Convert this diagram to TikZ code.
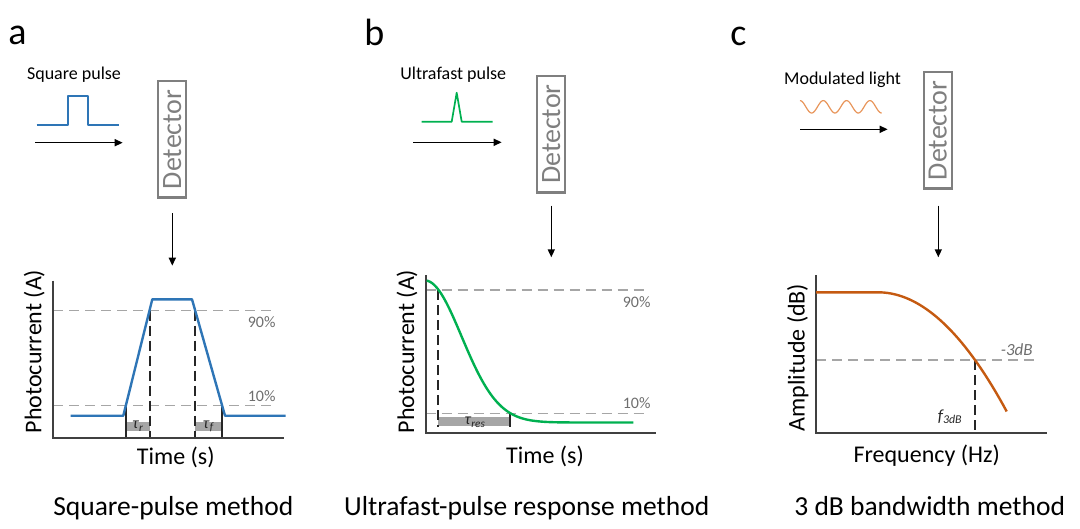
\documentclass[tikz,border=0pt]{standalone}
\usepackage{fontspec}
\setmainfont{Carlito}
\usetikzlibrary{arrows.meta}
\definecolor{pblue}{HTML}{2E75B6}
\definecolor{pgreen}{HTML}{00B050}
\definecolor{lorange}{HTML}{E8955A}
\definecolor{dorange}{HTML}{C55A11}
\definecolor{detgray}{HTML}{7F7F7F}
\definecolor{axgray}{HTML}{404040}
\definecolor{thrgray}{HTML}{A6A6A6}
\definecolor{pctgray}{HTML}{6E6E6E}
\definecolor{dkline}{HTML}{262626}
\definecolor{bargray}{HTML}{A6A6A6}
\newcommand\myfs[1]{\fontsize{#1}{#1}\selectfont}
\begin{document}
\begin{tikzpicture}[x=1pt,y=-1pt,
  detbox/.style={draw=detgray, line width=2.2pt, text=detgray, rotate=90,
    minimum width=116.5pt, minimum height=28pt, inner sep=0pt, font=\myfs{28}},
  flow/.style={-{Triangle[length=8pt,width=7pt]}, line width=1.5pt, black},
  axisline/.style={line width=2.2pt, draw=axgray},
  thr/.style={dash pattern=on 10pt off 6pt, line width=1.5pt, draw=thrgray},
  vdash/.style={dash pattern=on 10pt off 5pt, line width=1.7pt, draw=dkline},
  vsolid/.style={line width=1.7pt, draw=dkline},
  gbar/.style={fill=bargray, draw=none},
  pct/.style={font=\myfs{16}, text=pctgray, inner sep=0pt},
  small/.style={font=\myfs{16}, text=dkline, inner sep=0pt},
  axlabel/.style={font=\myfs{24}, anchor=base, inner sep=0pt},
  method/.style={font=\myfs{27.5}, anchor=base, inner sep=0pt},
  panel/.style={font=\myfs{38}, anchor=base, inner sep=0pt},
  caption/.style={font=\myfs{18}, anchor=base, inner sep=0pt},
  sig/.style={line width=1.7pt, line join=round},
  curve/.style={line width=2.4pt, line join=round}
]
\useasboundingbox (0,0) rectangle (1080,528);

% ---------------- panel a ----------------
\node[panel] (pa) at (17.5,44) {a};
\node[caption] (capa) at (74,79.5) {Square pulse};
\draw[sig, pblue] (36.7,125.3) -- (67.7,125.3) -- (67.7,96) -- (88.3,96) -- (88.3,125.3) -- (119,125.3);
\coordinate (ina0) at (35,142.7);
\coordinate (ina1) at (122.7,142.7);
\draw[flow] (ina0) -- (ina1);
\node[detbox] (deta) at (172.2,139.3) {Detector};
\coordinate (outa0) at (172.3,213);
\coordinate (outa1) at (172.3,265.7);
\draw[flow] (outa0) -- (outa1);

\draw[thr] (53.3,310.7) -- (273,310.7);
\draw[thr] (53.3,405.3) -- (273,405.3);
\fill[gbar] (126,422.3) rectangle (150,430.7);
\fill[gbar] (195.2,422.3) rectangle (222,430.7);
\draw[vdash] (150,310.7) -- (150,437.7);
\draw[vdash] (195.2,310.7) -- (195.2,437.7);
\draw[vsolid] (126,405.3) -- (126,437.7);
\draw[vsolid] (222,405.3) -- (222,437.7);
\node[small] (taur) at (138,426.5) {\textit{τ}\textsubscript{\textit{r}}};
\node[small] (tauf) at (208.6,426.5) {\textit{τ}\textsubscript{\textit{f}}};
\draw[axisline] (53.3,280.7) -- (53.3,437.7) -- (284,437.7);
\draw[curve, pblue] (70.7,415.7) -- (123.3,415.7) -- (152.3,299.3) -- (192,299.3) -- (225,415.7) -- (285.7,415.7);
\node[pct] (a90) at (261.7,321.7) {90\%};
\node[pct] (a10) at (261.7,396) {10\%};
\node[axlabel, rotate=90] (ya) at (41.5,351.5) {Photocurrent (A)};
\node[axlabel] (xa) at (175.8,464) {Time (s)};
\node[method] (ma) at (173.3,515.5) {Square-pulse method};

% ---------------- panel b ----------------
\node[panel] (pb) at (374.3,45) {b};
\node[caption] (capb) at (453.3,79.5) {Ultrafast pulse};
\draw[sig, pgreen] (421.7,121.7) -- (451.7,121.7) -- (456.7,92.7) -- (461.7,121.7) -- (492.7,121.7);
\coordinate (inb0) at (413.3,142.3);
\coordinate (inb1) at (501.7,142.3);
\draw[flow] (inb0) -- (inb1);
\node[detbox] (detb) at (551.2,134.2) {Detector};
\coordinate (outb0) at (551.3,205.7);
\coordinate (outb1) at (551.3,257.3);
\draw[flow] (outb0) -- (outb1);

\draw[thr] (425.7,290) -- (645,290);
\draw[thr] (425.7,413.3) -- (645,413.3);
\fill[gbar] (438.3,417.3) rectangle (510,425.7);
\draw[vdash] (438.3,290) -- (438.3,426.7);
\draw[vsolid] (510,413.3) -- (510,426.7);
\node[small] (taures) at (475,422.5) {\textit{τ}\textsubscript{\textit{res}}};
\draw[axisline] (425.7,275) -- (425.7,432.7) -- (656,432.7);
\draw[curve, pgreen] plot[domain=426.7:633.3, samples=120, smooth] (\x,{422.5-142*exp(-((\x-425)/51.7)^2)});
\node[pct] (b90) at (636.7,301.7) {90\%};
\node[pct] (b10) at (636.7,402.7) {10\%};
\node[axlabel, rotate=90] (yb) at (414,351.5) {Photocurrent (A)};
\node[axlabel] (xb) at (545,463.3) {Time (s)};
\node[method] (mb) at (526.7,515.5) {Ultrafast-pulse response method};

% ---------------- panel c ----------------
\node[panel] (pc) at (738.3,45) {c};
\node[caption] (capc) at (842.5,84) {Modulated light};
\draw[lorange, line width=1.2pt] plot[domain=800:881.7, samples=120, smooth] (\x,{106.8-6.2*cos((\x-800)*15.451)});
\coordinate (inc0) at (800,129.3);
\coordinate (inc1) at (887.7,129.3);
\draw[flow] (inc0) -- (inc1);
\node[detbox] (detc) at (937.7,130.3) {Detector};
\coordinate (outc0) at (938.3,205.7);
\coordinate (outc1) at (938.3,257.3);
\draw[flow] (outc0) -- (outc1);

\draw[thr] (816,360) -- (1035,360);
\draw[vdash] (975,360) -- (975,432.7);
\draw[axisline] (816,275) -- (816,432.7) -- (1046.7,432.7);
\draw[curve, dorange] (816,292.3) -- (878,292.3) -- plot[domain=878:1006.7, samples=80, smooth] (\x,{292.3+((\x-878)*0.08482)^2});
\node[pct, font=\myfs{17}\itshape] (c3db) at (1016.7,349.3) {-3dB};
\node[small, font=\myfs{17}\itshape] (f3db) at (950,416.7) {f\textsubscript{3dB}};
\node[axlabel, rotate=90] (yc) at (804.5,357.5) {Amplitude (dB)};
\node[axlabel] (xc) at (926.7,462.7) {Frequency (Hz)};
\node[method] (mc) at (929.7,515.5) {3 dB bandwidth method};
\end{tikzpicture}
\end{document}
